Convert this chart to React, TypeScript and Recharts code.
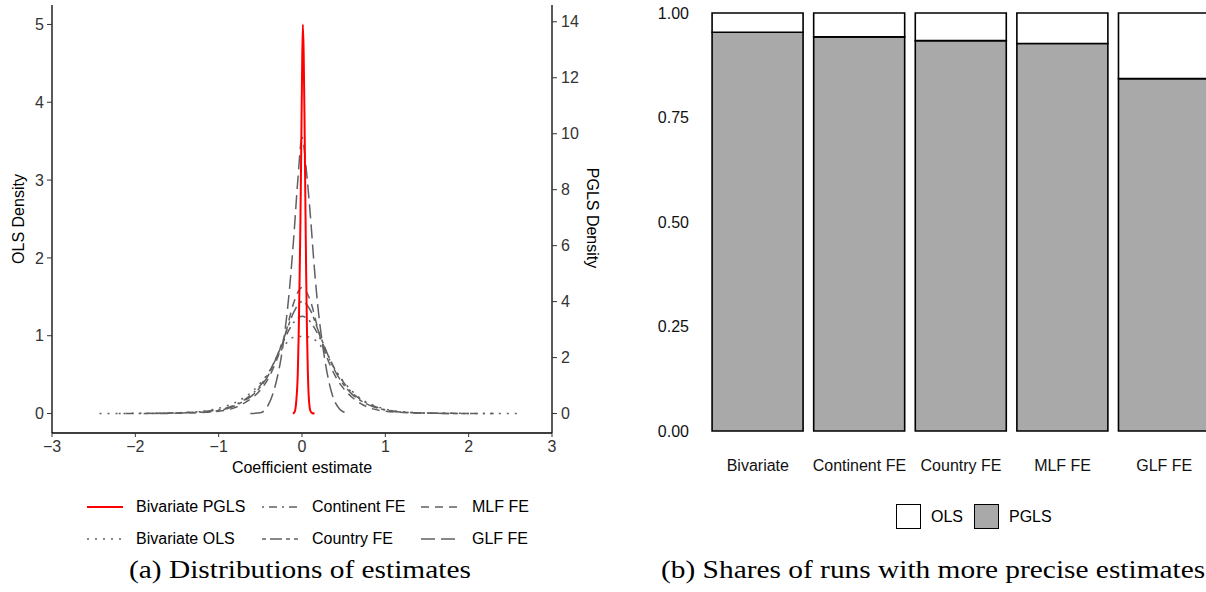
import React from "react";
import { LineChart, Line, XAxis, YAxis, BarChart, Bar } from "recharts";

// ---- panel (a): densities of the coefficient estimates ----
const X_TICKS = [-3, -2, -1, 0, 1, 2, 3];
const OLS_TICKS = [0, 1, 2, 3, 4, 5];
const PGLS_TICKS = [0, 2, 4, 6, 8, 10, 12, 14];

// Bivariate PGLS (right axis)
const pglsX = [-0.11, -0.09, -0.07, -0.05, -0.04, -0.03, -0.02, -0.01, 0, 0.01, 0.02, 0.03, 0.04, 0.05, 0.06, 0.07, 0.08, 0.1, 0.12, 0.15];
const pglsY = [0, 0.05, 0.4, 1.5, 2.8, 4.6, 6.6, 9.2, 12.0, 13.9, 12.9, 10.6, 7.7, 5.0, 2.9, 1.5, 0.65, 0.1, 0.02, 0];

// OLS based estimates (left axis)
const bivOlsX = [-2.43, -2.0, -1.6, -1.3, -1.1, -0.9, -0.75, -0.6, -0.5, -0.4, -0.3, -0.2, -0.1, 0, 0.1, 0.2, 0.3, 0.4, 0.5, 0.6, 0.75, 0.9, 1.1, 1.3, 1.6, 2.0, 2.61];
const bivOlsY = [0, 0.003, 0.008, 0.02, 0.045, 0.1, 0.17, 0.28, 0.39, 0.53, 0.72, 0.89, 0.98, 0.99, 0.98, 0.9, 0.75, 0.56, 0.41, 0.29, 0.16, 0.09, 0.035, 0.015, 0.005, 0.002, 0];

const continentX = [-2.2, -1.6, -1.3, -1.1, -0.9, -0.75, -0.6, -0.5, -0.4, -0.3, -0.2, -0.1, 0, 0.1, 0.2, 0.3, 0.4, 0.5, 0.6, 0.75, 0.9, 1.1, 1.3, 1.6, 2.3];
const continentY = [0, 0.006, 0.018, 0.035, 0.075, 0.14, 0.25, 0.36, 0.52, 0.74, 0.98, 1.17, 1.25, 1.18, 1.0, 0.78, 0.56, 0.4, 0.27, 0.15, 0.08, 0.03, 0.013, 0.005, 0];

const countryX = [-1.9, -1.5, -1.2, -1.0, -0.85, -0.7, -0.6, -0.5, -0.4, -0.3, -0.2, -0.1, 0, 0.1, 0.2, 0.3, 0.4, 0.5, 0.6, 0.7, 0.85, 1.0, 1.2, 1.5, 2.0];
const countryY = [0, 0.006, 0.018, 0.04, 0.08, 0.16, 0.23, 0.34, 0.5, 0.74, 1.02, 1.3, 1.44, 1.33, 1.05, 0.78, 0.54, 0.37, 0.25, 0.17, 0.09, 0.045, 0.018, 0.006, 0];

const mlfX = [-1.7, -1.3, -1.0, -0.85, -0.7, -0.6, -0.5, -0.4, -0.3, -0.2, -0.1, 0, 0.1, 0.2, 0.3, 0.4, 0.5, 0.6, 0.7, 0.85, 1.0, 1.3, 1.8];
const mlfY = [0, 0.01, 0.03, 0.06, 0.13, 0.2, 0.3, 0.46, 0.7, 1.02, 1.42, 1.62, 1.45, 1.05, 0.72, 0.48, 0.32, 0.21, 0.13, 0.06, 0.03, 0.01, 0];

const glfX = [-0.62, -0.5, -0.45, -0.4, -0.35, -0.3, -0.25, -0.2, -0.15, -0.1, -0.05, 0, 0.05, 0.1, 0.15, 0.2, 0.25, 0.3, 0.35, 0.4, 0.45, 0.5, 0.56];
const glfY = [0, 0.01, 0.04, 0.12, 0.25, 0.45, 0.72, 1.1, 1.6, 2.25, 3.0, 3.55, 3.15, 2.55, 1.85, 1.28, 0.86, 0.53, 0.29, 0.14, 0.06, 0.02, 0];

// ---- panel (b): share of runs where each estimator is more precise ----
const MODELS = ["Bivariate", "Continent FE", "Country FE", "MLF FE", "GLF FE"];
const PGLS_SHARE = [0.954, 0.943, 0.934, 0.927, 0.843];
const OLS_SHARE = [0.046, 0.057, 0.066, 0.073, 0.157];
const SHARE_TICKS = [0, 0.25, 0.5, 0.75, 1];

const GREY = "#606060";
const TEXT = "#333333";
const FONT = '"Liberation Sans", Arial, Helvetica, sans-serif';
const SERIF = '"Liberation Serif", "Times New Roman", serif';

const pts = (xs: number[], ys: number[]) => xs.map((x, i) => ({ x, y: ys[i] }));

// legend order follows ggplot (filled by column, 2 rows)
const SERIES = [
  { name: "Bivariate PGLS", data: pts(pglsX, pglsY), axis: "pgls", color: "#FF0000", dash: undefined, width: 2 },
  { name: "Bivariate OLS", data: pts(bivOlsX, bivOlsY), axis: "ols", color: GREY, dash: "2 6", width: 1.5 },
  { name: "Continent FE", data: pts(continentX, continentY), axis: "ols", color: GREY, dash: "2 5 8 5", width: 1.5 },
  { name: "Country FE", data: pts(countryX, countryY), axis: "ols", color: GREY, dash: "4 4 12 4", width: 1.5 },
  { name: "MLF FE", data: pts(mlfX, mlfY), axis: "ols", color: GREY, dash: "8 6", width: 1.5 },
  { name: "GLF FE", data: pts(glfX, glfY), axis: "ols", color: GREY, dash: "14 6", width: 1.5 },
];

const shareData = MODELS.map((m, i) => ({ model: m, PGLS: PGLS_SHARE[i], OLS: OLS_SHARE[i] }));

const minus = (v: number) => String(v).replace("-", "\u2212");

const LEG_KEY_X = [87, 262, 421];
const LEG_TEXT_X = [136, 312, 472];
const LEG_ROW_Y = [507, 539];

export default function App() {
  const abs = (left: number, top: number): React.CSSProperties => ({ position: "absolute", left, top });
  const caption: React.CSSProperties = {
    fontFamily: SERIF,
    fontSize: 26,
    lineHeight: 1,
    whiteSpace: "nowrap",
    color: "#000",
    transform: "translateY(-50%) scaleX(1.13)",
    transformOrigin: "left center",
  };
  return (
    <div style={{ position: "absolute", left: 0, top: 0, width: 1206, height: 592, overflow: "hidden", background: "#fff", fontFamily: FONT }}>
      {/* (a) densities */}
      <div style={abs(0, 0)}>
        <LineChart width={610} height={500} margin={{ top: 5, right: 18, bottom: 7, left: 12 }}>
          <XAxis
            type="number"
            dataKey="x"
            domain={[-3, 3]}
            ticks={X_TICKS}
            allowDataOverflow
            height={60}
            tickSize={4}
            tickMargin={4}
            tickFormatter={minus}
            stroke="#000"
            strokeWidth={1.3}
            tickLine={{ stroke: TEXT, strokeWidth: 1 }}
            tick={{ fontSize: 16, fill: TEXT }}
          />
          <YAxis
            yAxisId="ols"
            type="number"
            domain={[-0.25, 5.25]}
            ticks={OLS_TICKS}
            width={40}
            tickSize={5}
            tickMargin={3}
            stroke="#000"
            strokeWidth={1.3}
            tickLine={{ stroke: TEXT, strokeWidth: 1 }}
            tick={{ fontSize: 16, fill: TEXT }}
          />
          <YAxis
            yAxisId="pgls"
            orientation="right"
            type="number"
            domain={[-0.695, 14.6]}
            ticks={PGLS_TICKS}
            width={40}
            tickSize={5}
            tickMargin={4}
            stroke="#000"
            strokeWidth={1.3}
            tickLine={{ stroke: TEXT, strokeWidth: 1 }}
            tick={{ fontSize: 16, fill: TEXT }}
          />
          {[...SERIES.slice(1), SERIES[0]].map((s) => (
            <Line
              key={s.name}
              data={s.data}
              dataKey="y"
              yAxisId={s.axis}
              type="monotone"
              stroke={s.color}
              strokeWidth={s.width}
              strokeDasharray={s.dash}
              dot={false}
              activeDot={false}
              isAnimationActive={false}
            />
          ))}
        </LineChart>
      </div>

      {/* axis titles (a) */}
      <div style={{ ...abs(19, 219), fontSize: 16, lineHeight: 1, whiteSpace: "nowrap", color: "#000", transform: "translate(-50%, -50%) rotate(-90deg)" }}>OLS Density</div>
      <div style={{ ...abs(592, 218), fontSize: 16, lineHeight: 1, whiteSpace: "nowrap", color: "#000", transform: "translate(-50%, -50%) rotate(90deg)" }}>PGLS Density</div>
      <div style={{ ...abs(302, 468), fontSize: 16, lineHeight: 1, whiteSpace: "nowrap", color: "#000", transform: "translate(-50%, -50%)" }}>Coefficient estimate</div>

      {/* legend (a) */}
      {SERIES.map((s, i) => {
        const col = Math.floor(i / 2);
        const row = i % 2;
        const y = LEG_ROW_Y[row];
        return (
          <React.Fragment key={s.name}>
            <svg width={36} height={10} style={abs(LEG_KEY_X[col], y - 5)}>
              <line x1={0} x2={36} y1={5} y2={5} stroke={s.color} strokeWidth={s.width} strokeDasharray={s.dash} />
            </svg>
            <div style={{ ...abs(LEG_TEXT_X[col], y), fontSize: 16, lineHeight: 1, whiteSpace: "nowrap", color: "#000", transform: "translateY(-50%)" }}>{s.name}</div>
          </React.Fragment>
        );
      })}

      {/* (b) shares */}
      <div style={abs(600, 0)}>
        <BarChart width={630} height={480} data={shareData} margin={{ top: 13, right: 15, bottom: 0, left: 0 }} barCategoryGap="5%">
          <XAxis dataKey="model" interval={0} axisLine={false} tickLine={false} tickSize={0} tickMargin={29} height={49} tick={{ fontSize: 16, fill: "#111" }} />
          <YAxis
            type="number"
            domain={[0, 1]}
            ticks={SHARE_TICKS}
            tickFormatter={(v: number) => v.toFixed(2)}
            axisLine={false}
            tickLine={false}
            width={107}
            tickSize={0}
            tickMargin={18}
            tick={{ fontSize: 16, fill: "#111" }}
          />
          <Bar dataKey="PGLS" stackId="s" fill="#A9A9A9" stroke="#000" strokeWidth={1.6} isAnimationActive={false} />
          <Bar dataKey="OLS" stackId="s" fill="#FFFFFF" stroke="#000" strokeWidth={1.6} isAnimationActive={false} />
        </BarChart>
      </div>

      {/* legend (b) */}
      <div style={{ ...abs(896, 504), width: 25, height: 25, boxSizing: "border-box", border: "1.6px solid #000", background: "#fff" }} />
      <div style={{ ...abs(931, 517), fontSize: 16, lineHeight: 1, color: "#000", transform: "translateY(-50%)" }}>OLS</div>
      <div style={{ ...abs(974, 504), width: 25, height: 25, boxSizing: "border-box", border: "1.6px solid #000", background: "#A9A9A9" }} />
      <div style={{ ...abs(1009, 517), fontSize: 16, lineHeight: 1, color: "#000", transform: "translateY(-50%)" }}>PGLS</div>

      {/* captions */}
      <div style={{ ...abs(129, 570), ...caption }}>(a) Distributions of estimates</div>
      <div style={{ ...abs(661, 570), ...caption }}>(b) Shares of runs with more precise estimates</div>
    </div>
  );
}
